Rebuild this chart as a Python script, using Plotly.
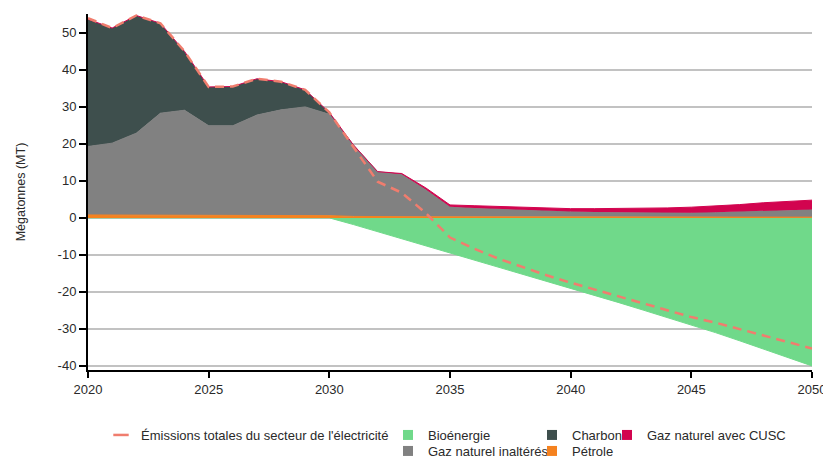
import plotly.graph_objects as go

years = list(range(2020, 2051))

petrole = [0.8, 0.8, 0.8, 0.8, 0.8, 0.8, 0.8, 0.8, 0.8, 0.8,
           0.6, 0.4, 0.3, 0.3, 0.3, 0.3, 0.3, 0.3, 0.3, 0.3,
           0.3, 0.3, 0.3, 0.3, 0.3, 0.3, 0.3, 0.2, 0.2, 0.2, 0.2]

gaz_inalteres = [18.5, 19.4, 22.1, 27.5, 28.3, 24.1, 24.1, 27.0, 28.4, 29.2,
                 27.4, 19.3, 12.2, 11.5, 7.4, 2.7, 2.4, 2.1, 1.8, 1.6,
                 1.4, 1.3, 1.2, 1.2, 1.1, 1.1, 1.2, 1.5, 1.8, 2.0, 2.1]

charbon = [34.4, 31.1, 31.8, 24.3, 15.9, 10.5, 10.6, 9.8, 7.6, 4.6,
           0.5, 0.0, 0.0, 0.0, 0.0, 0.0, 0.0, 0.0, 0.0, 0.0,
           0.0, 0.0, 0.0, 0.0, 0.0, 0.0, 0.0, 0.0, 0.0, 0.0, 0.0]

gaz_cusc = [0.0, 0.0, 0.0, 0.0, 0.0, 0.0, 0.0, 0.0, 0.0, 0.0,
            0.0, 0.0, 0.0, 0.2, 0.4, 0.5, 0.6, 0.7, 0.7, 0.8,
            0.8, 0.9, 1.0, 1.2, 1.3, 1.5, 1.7, 1.9, 2.1, 2.3, 2.5]

bioenergie = [0.0, 0.0, 0.0, 0.0, 0.0, 0.0, 0.0, 0.0, 0.0, 0.0,
              0.0, -1.8, -3.7, -5.6, -7.5, -9.4, -11.3, -13.2, -15.1, -17.0,
              -18.9, -20.9, -22.9, -24.9, -26.9, -28.9, -31.0, -33.2, -35.4, -37.7, -40.0]

total = [54.0, 51.3, 54.7, 52.6, 45.0, 35.4, 35.5, 37.6, 36.8, 34.6,
         28.5, 19.0, 9.8, 6.8, 1.3, -5.3, -8.3, -11.0, -13.3, -15.5,
         -17.5, -19.4, -21.2, -23.0, -25.0, -26.8, -28.3, -30.0, -31.8, -33.6, -35.3]

x_ticks = [2020, 2025, 2030, 2035, 2040, 2045, 2050]
y_ticks = [-40, -30, -20, -10, 0, 10, 20, 30, 40, 50]

C_BIO = "#70d98a"
C_GAS = "#818181"
C_COAL = "#3e4f4d"
C_CUSC = "#d2044f"
C_PET = "#f5821f"
C_TOT = "#f07d6e"

FONT = "Liberation Sans, Arial, sans-serif"
TXT = "#2a2a2a"
# the page places the figure 8px from the top-left corner of the window
OFF = 8
FIG_W, FIG_H = 831 - OFF, 458 - OFF

fig = go.Figure()

# negative stack
fig.add_trace(go.Scatter(x=years, y=bioenergie, stackgroup="neg", mode="lines",
                         line=dict(color=C_BIO, width=1), fillcolor=C_BIO,
                         name="Bioénergie", showlegend=False))
# positive stack
for vals, col, nm in [(petrole, C_PET, "Pétrole"),
                      (gaz_inalteres, C_GAS, "Gaz naturel inaltérés"),
                      (charbon, C_COAL, "Charbon"),
                      (gaz_cusc, C_CUSC, "Gaz naturel avec CUSC")]:
    fig.add_trace(go.Scatter(x=years, y=vals, stackgroup="pos", mode="lines",
                             line=dict(color=col, width=1 if nm != "Charbon" else 0),
                             fillcolor=col, name=nm, showlegend=False))

fig.add_trace(go.Scatter(x=years, y=total, mode="lines",
                         line=dict(color=C_TOT, width=2.5, dash="9px,6px"),
                         name="Émissions totales du secteur de l'électricité",
                         showlegend=False))

# legend entries (one legend per entry to mimic the reference layout)
entries = [
    ("Émissions totales du secteur de l'électricité", C_TOT, "line", 141, 435),
    ("Bioénergie", C_BIO, "sq", 428, 435),
    ("Gaz naturel inaltérés", C_GAS, "sq", 428, 451),
    ("Charbon", C_COAL, "sq", 572, 435),
    ("Pétrole", C_PET, "sq", 572, 451),
    ("Gaz naturel avec CUSC", C_CUSC, "sq", 647, 435),
]

legend_layouts = {}
for i, (nm, col, kind, tx, ty) in enumerate(entries):
    key = "legend" if i == 0 else f"legend{i+1}"
    if kind == "line":
        marker = dict(symbol="line-ew", size=11, line=dict(color=col, width=2.5), color=col)
    else:
        marker = dict(symbol="square", size=10, color=col, line=dict(width=0))
    fig.add_trace(go.Scatter(x=[None], y=[None], mode="markers", marker=marker,
                             name=nm, legend=key, showlegend=True))
    legend_layouts[key] = dict(x=(tx - 40 - OFF) / FIG_W, y=1 - (ty - 15 - OFF) / FIG_H,
                               xref="container", yref="container",
                               xanchor="left", yanchor="top", orientation="h",
                               bgcolor="rgba(0,0,0,0)", borderwidth=0,
                               font=dict(family=FONT, size=13, color=TXT),
                               itemwidth=30, tracegroupgap=0)

fig.update_layout(
    width=FIG_W, height=FIG_H,
    margin=dict(l=88 - OFF, r=19, t=14 - OFF, b=FIG_H - (370 - OFF)),
    plot_bgcolor="white", paper_bgcolor="white",
    font=dict(family=FONT, size=13, color=TXT),
    hovermode=False,
    **legend_layouts,
)

fig.update_xaxes(range=[2020, 2050], tickvals=x_ticks, ticktext=[str(v) for v in x_ticks],
                 showgrid=False, zeroline=False, showline=True, linecolor="black",
                 linewidth=2, ticks="outside", ticklen=6, tickwidth=1.5, tickcolor="black",
                 tickfont=dict(family=FONT, size=13, color=TXT))
fig.update_yaxes(range=[-41.1, 55.1], tickvals=y_ticks, ticktext=[str(v) for v in y_ticks],
                 showgrid=True, gridcolor="#c2c2c2", gridwidth=1.5, zeroline=False,
                 showline=True, linecolor="black", linewidth=2, ticks="outside",
                 ticklen=7, tickwidth=1.5, tickcolor="black",
                 tickfont=dict(family=FONT, size=13, color=TXT),
                 title=dict(text="Mégatonnes (MT)", font=dict(family=FONT, size=12.5, color=TXT),
                            standoff=29))

fig.write_html("out.html")
